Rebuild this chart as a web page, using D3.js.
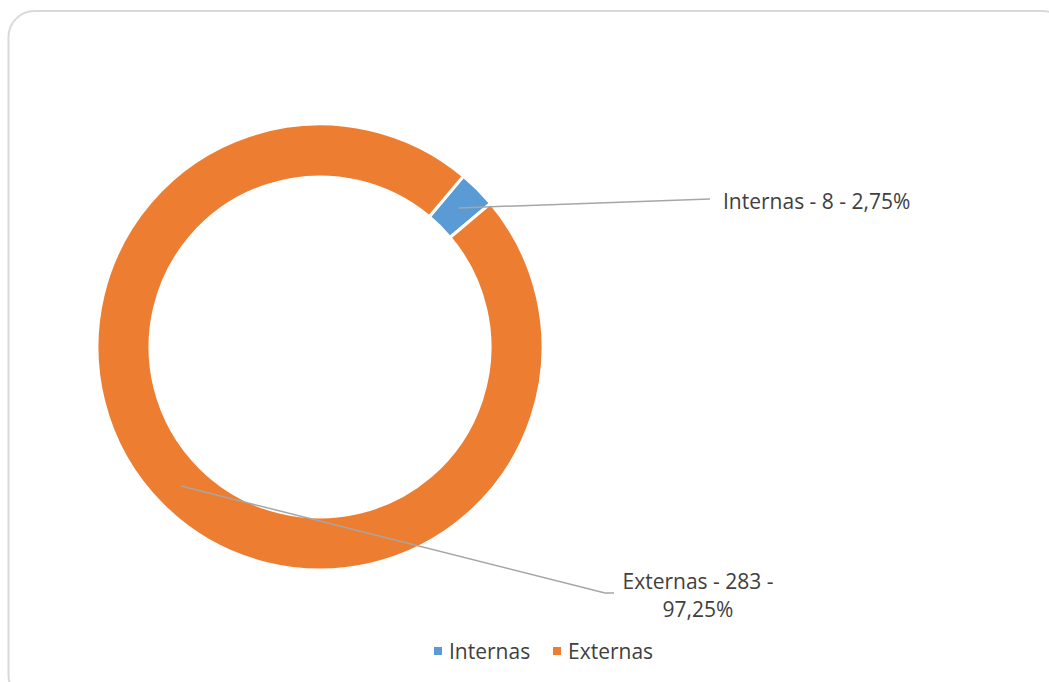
<!DOCTYPE html>
<html>
<head>
<meta charset="utf-8">
<script src="https://cdn.jsdelivr.net/npm/d3@7"></script>
<style>
  body { margin: 0; background: #fff; }
  text { font-family: "Open Sans", sans-serif; fill: #404040; }
</style>
</head>
<body>
<svg id="chart" width="1049" height="682"></svg>
<script>
const categories = ['Internas', 'Externas']
const values = [8, 283]
const percents = ['2,75%', '97,25%']
const colors = ['#5B9BD5', '#ED7D31']

const svg = d3.select('#chart')

// card border
svg.append('rect')
  .attr('x', 8.5).attr('y', 11).attr('width', 1060).attr('height', 690)
  .attr('rx', 26).attr('ry', 26)
  .attr('fill', '#fff').attr('stroke', '#d9d9d9').attr('stroke-width', 2)

const cx = 320, cy = 347
const outer = 223, inner = 170

const g = svg.append('g').attr('transform', `translate(${cx},${cy})`)

const data = categories.map((c, i) => ({ name: c, value: values[i], pct: percents[i], color: colors[i] }))

const pie = d3.pie().sort(null).value(d => d.value)
  .startAngle(40 * Math.PI / 180).endAngle(400 * Math.PI / 180)

const arc = d3.arc().outerRadius(outer).innerRadius(inner)

const arcs = pie(data)

g.selectAll('path.slice').data(arcs).enter().append('path')
  .attr('class', 'slice')
  .attr('d', arc)
  .attr('fill', d => d.data.color)
  .attr('stroke', '#fff').attr('stroke-width', 3)

// label positions (relative to the svg) and leader line ends
const labelPos = [
  { end: [[710, 199]], lines: [d => `${d.name} - ${d.value} - ${d.pct}`], x: 723, y: 209, anchor: 'start' },
  { end: [[605, 593], [614, 593]], lines: [d => `${d.name} - ${d.value} -`, d => d.pct], x: 698, y: 589, anchor: 'middle' }
]

arcs.forEach((a, i) => {
  const c = arc.centroid(a)
  const pts = [[cx + c[0], cy + c[1]]].concat(labelPos[i].end)
  svg.append('path')
    .attr('d', d3.line()(pts))
    .attr('fill', 'none').attr('stroke', '#a6a6a6').attr('stroke-width', 1.5)
  const t = svg.append('text')
    .attr('x', labelPos[i].x).attr('y', labelPos[i].y)
    .attr('text-anchor', labelPos[i].anchor)
    .style('font-size', '21px')
  labelPos[i].lines.forEach((f, j) => {
    t.append('tspan').attr('x', labelPos[i].x).attr('dy', j ? 28 : 0).text(f(a.data))
  })
})

// legend
const legend = svg.append('g').attr('transform', 'translate(434,651)')
const lx = [0, 119]
data.forEach((d, i) => {
  const item = legend.append('g').attr('transform', `translate(${lx[i]},0)`)
  item.append('rect').attr('x', 0).attr('y', -4).attr('width', 8).attr('height', 8).attr('fill', d.color)
  item.append('text').attr('x', 15).attr('y', 8).style('font-size', '21px').text(d.name)
})
</script>
</body>
</html>
